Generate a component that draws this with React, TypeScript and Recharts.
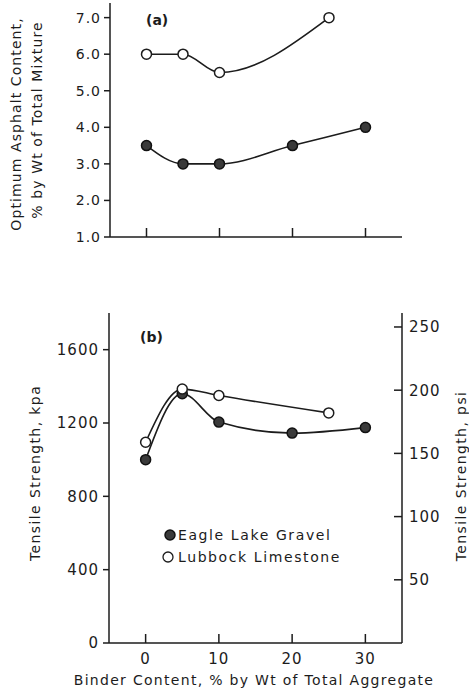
import { Customized, Line, LineChart, XAxis, YAxis } from "recharts";

const FONT = "'DejaVu Sans', sans-serif";
const INK = "#1c1c1c";

// panel (a): optimum asphalt content vs binder content
const binderEagle = [0, 5, 10, 20, 30];
const asphaltEagle = [3.5, 3.0, 3.0, 3.5, 4.0];
const binderLubbock = [0, 5, 10, 25];
const asphaltLubbock = [6.0, 6.0, 5.5, 7.0];

// panel (b): tensile strength (kPa) vs binder content
const tensileEagle = [1000, 1360, 1205, 1145, 1175];
const tensileLubbock = [1095, 1385, 1350, 1255];

const binderTicks = [0, 10, 20, 30];
const asphaltTicks = [1, 2, 3, 4, 5, 6, 7];
const kpaTicks = [0, 400, 800, 1200, 1600];
const psiTicks = [50, 100, 150, 200, 250];
const KPA_PER_PSI = 6.895;

const eagleA = binderEagle.map((x, i) => ({ x, y: asphaltEagle[i] }));
const lubbockA = binderLubbock.map((x, i) => ({ x, y: asphaltLubbock[i] }));
const eagleB = binderEagle.map((x, i) => ({ x, y: tensileEagle[i], psi: tensileEagle[i] / KPA_PER_PSI }));
const lubbockB = binderLubbock.map((x, i) => ({ x, y: tensileLubbock[i] }));

const filledDot = { r: 5, fill: "#3a3a3a", stroke: "#111", strokeWidth: 1.5 };
const openDot = { r: 5, fill: "#fff", stroke: INK, strokeWidth: 1.5 };
const tickStyle = { fill: INK, fontSize: 14, fontFamily: FONT, letterSpacing: 1 };
const axisLine = { stroke: INK, strokeWidth: 1.5 };
const tickLine = { stroke: INK, strokeWidth: 1.5 };

function PanelALabels() {
  return (
    <g fontFamily={FONT} fill={INK}>
      <text x={146} y={25} fontSize={14} fontWeight="bold">
        (a)
      </text>
      <text
        transform="translate(21,124) rotate(-90)"
        textAnchor="middle"
        fontSize={14}
        letterSpacing={1.1}
      >
        Optimum Asphalt Content,
      </text>
      <text
        transform="translate(42,120) rotate(-90)"
        textAnchor="middle"
        fontSize={14}
        letterSpacing={1.1}
      >
        % by Wt of Total Mixture
      </text>
    </g>
  );
}

function PanelBLabels() {
  return (
    <g fontFamily={FONT} fill={INK}>
      <text x={140} y={42} fontSize={14} fontWeight="bold">
        (b)
      </text>
      <text
        transform="translate(40,173) rotate(-90)"
        textAnchor="middle"
        fontSize={14}
        letterSpacing={1.4}
      >
        Tensile Strength, kpa
      </text>
      <text
        transform="translate(466,176) rotate(-90)"
        textAnchor="middle"
        fontSize={14}
        letterSpacing={1.4}
      >
        Tensile Strength, psi
      </text>
      <text x={254} y={385} textAnchor="middle" fontSize={14} letterSpacing={1.3}>
        Binder Content, % by Wt of Total Aggregate
      </text>
      <circle cx={170} cy={235} r={5} fill="#3a3a3a" stroke="#111" strokeWidth={1.5} />
      <text x={178} y={240} fontSize={14} letterSpacing={1.6}>
        Eagle Lake Gravel
      </text>
      <circle cx={168} cy={257} r={5} fill="#fff" stroke={INK} strokeWidth={1.3} />
      <text x={178} y={262} fontSize={14} letterSpacing={1.6}>
        Lubbock Limestone
      </text>
    </g>
  );
}

export default function App() {
  return (
    <div style={{ position: "absolute", left: 0, top: 0, width: 469, height: 688, background: "#fff" }}>
      <div style={{ position: "absolute", left: 0, top: 0 }}>
        <LineChart width={469} height={250} margin={{ top: 3, right: 67, left: 0, bottom: 0 }}>
          <XAxis
            dataKey="x"
            type="number"
            domain={[-5, 35]}
            ticks={binderTicks}
            tickFormatter={() => ""}
            tickSize={-9}
            height={13}
            axisLine={axisLine}
            tickLine={tickLine}
          />
          <YAxis
            type="number"
            domain={[1, 7.4]}
            ticks={asphaltTicks}
            tickFormatter={(v: number) => v.toFixed(1)}
            width={110}
            tickSize={6}
            tickMargin={3}
            tick={tickStyle}
            axisLine={axisLine}
            tickLine={tickLine}
          />
          <Line
            data={eagleA}
            dataKey="y"
            type="monotone"
            stroke={INK}
            strokeWidth={1.6}
            dot={filledDot}
            isAnimationActive={false}
          />
          <Line
            data={lubbockA}
            dataKey="y"
            type="monotone"
            stroke={INK}
            strokeWidth={1.6}
            dot={openDot}
            isAnimationActive={false}
          />
          <Customized component={PanelALabels} />
        </LineChart>
      </div>
      <div style={{ position: "absolute", left: 0, top: 300 }}>
        <LineChart width={469} height={388} margin={{ top: 13, right: 0, left: 0, bottom: 0 }}>
          <XAxis
            dataKey="x"
            type="number"
            domain={[-5, 35]}
            ticks={binderTicks}
            tickSize={-9}
            tickMargin={19}
            height={45}
            tick={{ ...tickStyle, fontSize: 15 }}
            axisLine={axisLine}
            tickLine={tickLine}
          />
          <YAxis
            yAxisId="kpa"
            type="number"
            domain={[0, 1800]}
            ticks={kpaTicks}
            width={109}
            tickSize={6}
            tickMargin={4}
            tick={{ ...tickStyle, fontSize: 15 }}
            axisLine={axisLine}
            tickLine={tickLine}
          />
          <YAxis
            yAxisId="psi"
            orientation="right"
            type="number"
            domain={[0, 1800 / KPA_PER_PSI]}
            allowDataOverflow
            ticks={psiTicks}
            width={67}
            tickSize={-8}
            tickMargin={15}
            tick={{ ...tickStyle, fontSize: 15 }}
            axisLine={axisLine}
            tickLine={tickLine}
          />
          {/* same Eagle Lake values in psi, invisible, so the right axis gets its scale */}
          <Line
            yAxisId="psi"
            data={eagleB}
            dataKey="psi"
            stroke="none"
            dot={false}
            activeDot={false}
            legendType="none"
            isAnimationActive={false}
          />
          <Line
            yAxisId="kpa"
            data={eagleB}
            dataKey="y"
            type="monotone"
            stroke={INK}
            strokeWidth={1.6}
            dot={filledDot}
            isAnimationActive={false}
          />
          <Line
            yAxisId="kpa"
            data={lubbockB}
            dataKey="y"
            type="monotone"
            stroke={INK}
            strokeWidth={1.6}
            dot={openDot}
            isAnimationActive={false}
          />
          <Customized component={PanelBLabels} />
        </LineChart>
      </div>
    </div>
  );
}
